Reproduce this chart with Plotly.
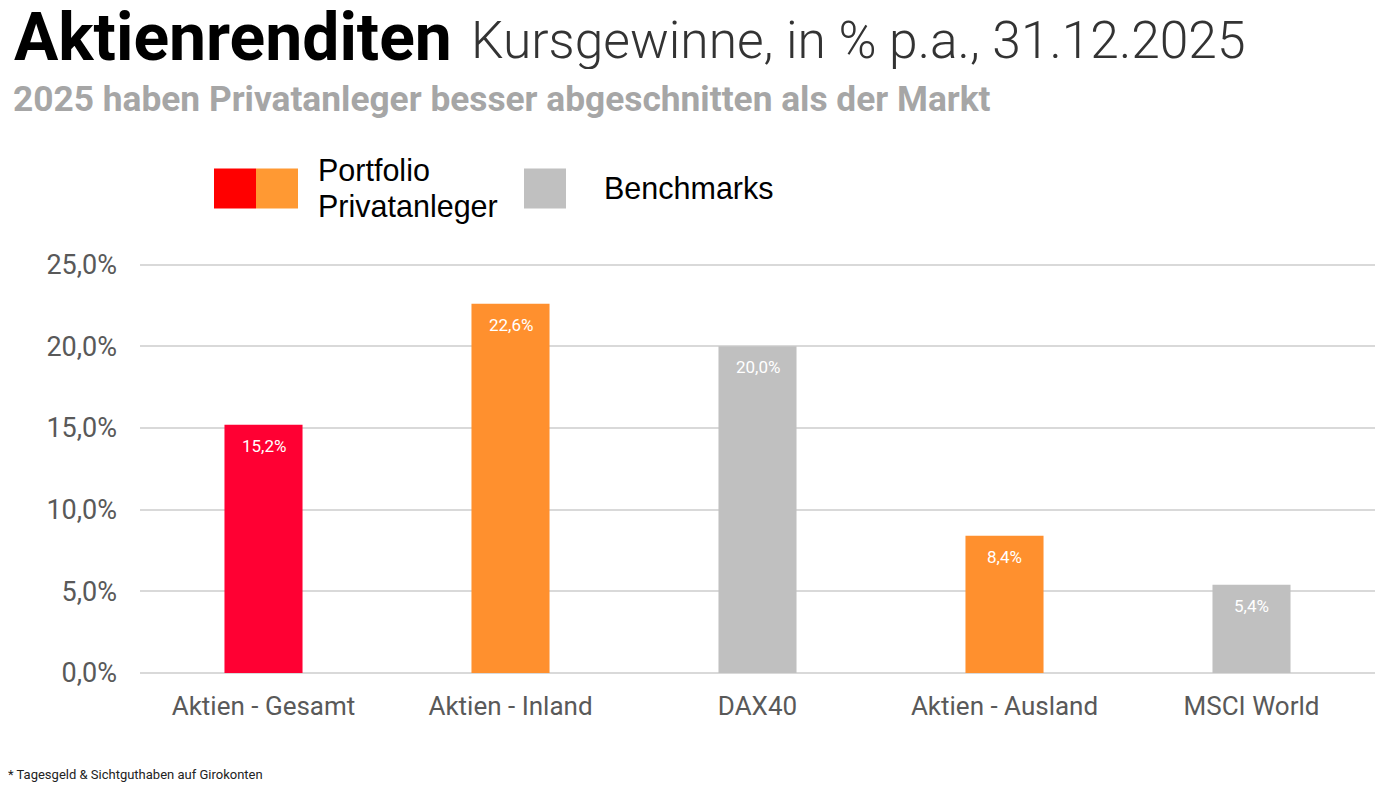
import plotly.graph_objects as go

categories = ["Aktien - Gesamt", "Aktien - Inland", "DAX40", "Aktien - Ausland", "MSCI World"]
values = [15.2, 22.6, 20.0, 8.4, 5.4]
bar_colors = ["#FF0033", "#FF902E", "#C0C0C0", "#FF902E", "#C0C0C0"]
tick_vals = [0, 5, 10, 15, 20, 25]
tick_text = ["0,0%", "5,0%", "10,0%", "15,0%", "20,0%", "25,0%"]

OFF = 8  # page body margin
W, H = 1390 - OFF, 800 - OFF
Y_MAX = 25.4
unit = 408 / 25.0                     # px per percent
plot_left, plot_right, plot_bottom = 140 - OFF, 1375 - OFF, 673 - OFF
plot_top = plot_bottom - Y_MAX * unit
L, R, T, B = plot_left, W - plot_right, plot_top, H - plot_bottom
pw, ph = W - L - R, H - T - B

def px(x):
    return (x - OFF - L) / pw

def py(y):
    return (H - B - (y - OFF)) / ph

fig = go.Figure()
fig.add_trace(go.Bar(
    x=categories, y=values, marker=dict(color=bar_colors, line=dict(width=0)),
    width=0.316, hoverinfo="skip", showlegend=False,
))

annotations = []
for c, v in zip(categories, values):
    annotations.append(dict(
        x=c, y=v, xref="x", yref="y", text=f"{v:.1f}".replace(".", ",") + "%",
        showarrow=False, yshift=-21, font=dict(family="Roboto", size=17, color="white"),
    ))

def txt(x, y, text, size, color, family="Roboto", weight=None, height=None):
    f = dict(family=family, size=size, color=color)
    if weight is not None:
        f["weight"] = weight
    a = dict(x=px(x), y=py(y), xref="paper", yref="paper", xanchor="left", yanchor="middle",
             text=text, showarrow=False, font=f)
    if height is not None:
        a["height"] = height
        a["valign"] = "middle"
    return a

annotations += [
    txt(12, 38, "<b>Aktienrenditen</b>", 66, "#000000", height=58),
    txt(469, 41, "Kursgewinne, in % p.a., 31.12.2025", 51.5, "#333333", weight=300, height=58),
    txt(11, 100, "<b>2025 haben Privatanleger besser abgeschnitten als der Markt</b>", 35.3, "#A6A6A6"),
    txt(316, 171, "Portfolio", 30.5, "#000000", family="Liberation Sans"),
    txt(316, 207, "Privatanleger", 30.5, "#000000", family="Liberation Sans"),
    txt(602, 189, "Benchmarks", 30.5, "#000000", family="Liberation Sans"),
    txt(6, 774, "* Tagesgeld & Sichtguthaben auf Girokonten", 13, "#222222"),
]

shapes = [
    dict(type="rect", xref="paper", yref="paper", x0=px(214), x1=px(256), y0=py(209), y1=py(169),
         fillcolor="#FF0000", line=dict(width=0), layer="above"),
    dict(type="rect", xref="paper", yref="paper", x0=px(256), x1=px(298), y0=py(209), y1=py(169),
         fillcolor="#FF9933", line=dict(width=0), layer="above"),
    dict(type="rect", xref="paper", yref="paper", x0=px(524), x1=px(566), y0=py(209), y1=py(169),
         fillcolor="#C0C0C0", line=dict(width=0), layer="above"),
]

fig.update_layout(
    width=W, height=H,
    margin=dict(l=L, r=R, t=T, b=B, pad=0, autoexpand=False),
    paper_bgcolor="white", plot_bgcolor="white",
    annotations=annotations, shapes=shapes,
    xaxis=dict(showgrid=False, showline=False, ticks="", tickfont=dict(family="Roboto", size=26, color="#595959"),
               ticklabelstandoff=15, fixedrange=True),
    yaxis=dict(range=[0, Y_MAX], tickvals=tick_vals, ticktext=tick_text, showgrid=True, gridcolor="#D9D9D9",
               gridwidth=2, zeroline=True, zerolinecolor="#D9D9D9", zerolinewidth=2, showline=False,
               tickfont=dict(family="Roboto", size=27, color="#595959"), ticklabelstandoff=22, fixedrange=True),
    showlegend=False,
)

fig.write_html("out.html", config={"displayModeBar": False})
